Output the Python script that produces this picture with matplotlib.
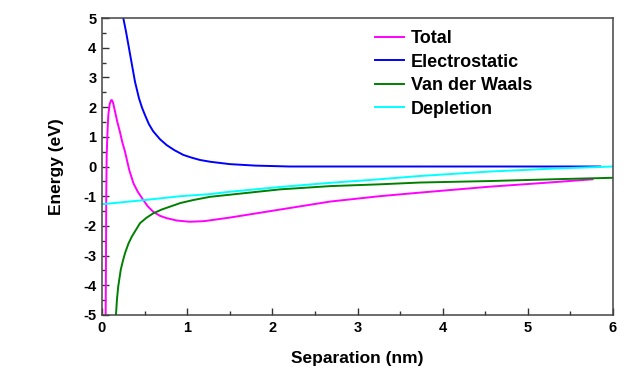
import matplotlib
matplotlib.use("Agg")
from matplotlib import pyplot as plt
from matplotlib.ticker import MultipleLocator

plt.rcParams['font.family'] = ['Liberation Sans', 'DejaVu Sans']
plt.rcParams['font.weight'] = 'bold'
plt.rcParams['axes.unicode_minus'] = False

# separation (nm) and energy (eV) for each interaction term
total_x = [0.043, 0.047, 0.050, 0.055, 0.065, 0.074, 0.09, 0.105, 0.114, 0.13, 0.153,
           0.18, 0.21, 0.24, 0.27, 0.32, 0.37, 0.42, 0.485, 0.54, 0.60, 0.68, 0.76,
           0.88, 1.03, 1.2, 1.5, 2.09, 2.68, 3.26, 3.73, 4.55, 5.2, 5.76]
total_y = [-5.0, -3.0, -1.0, 0.39, 1.2, 1.73, 2.1, 2.22, 2.24, 2.15, 1.85,
           1.5, 1.17, 0.8, 0.5, -0.12, -0.57, -0.85, -1.13, -1.35, -1.52, -1.66, -1.74,
           -1.82, -1.86, -1.84, -1.72, -1.45, -1.18, -1.0, -0.88, -0.68, -0.55, -0.43]

elec_x = [0.25, 0.282, 0.317, 0.352, 0.387, 0.434, 0.47, 0.505, 0.55, 0.60, 0.68,
          0.76, 0.85, 0.955, 1.05, 1.15, 1.27, 1.5, 1.8, 2.2, 3.0, 4.0, 5.0, 5.85]
elec_y = [5.0, 4.54, 3.98, 3.42, 2.86, 2.30, 1.98, 1.73, 1.43, 1.19, 0.92,
          0.72, 0.55, 0.39, 0.30, 0.22, 0.16, 0.08, 0.03, 0.0, 0.0, 0.0, 0.0, 0.0]

vdw_x = [0.164, 0.175, 0.19, 0.22, 0.245, 0.27, 0.31, 0.35, 0.446, 0.52, 0.60, 0.70,
         0.80, 0.92, 1.07, 1.27, 1.5, 2.09, 2.68, 3.26, 3.73, 4.55, 5.3, 6.0]
vdw_y = [-5.0, -4.5, -4.05, -3.48, -3.18, -2.92, -2.6, -2.36, -1.91, -1.73, -1.58, -1.45,
         -1.35, -1.23, -1.13, -1.02, -0.95, -0.77, -0.66, -0.60, -0.54, -0.49, -0.43, -0.38]

depl_x = [0.0, 0.5, 0.92, 1.27, 1.5, 2.09, 2.68, 3.26, 3.73, 4.55, 5.3, 6.0]
depl_y = [-1.27, -1.13, -1.0, -0.93, -0.85, -0.69, -0.55, -0.43, -0.32, -0.17, -0.07, 0.0]

fig = plt.figure(figsize=(6.33, 3.89), dpi=100)
ax = fig.add_axes([102 / 633, 1 - 315 / 389, 511 / 633, 297 / 389])

ax.plot(total_x, total_y, color='#FF00FF', lw=1.4, label='Total')
ax.plot(elec_x, elec_y, color='#0000FF', lw=1.4, label='Electrostatic')
ax.plot(vdw_x, vdw_y, color='#008000', lw=1.4, label='Van der Waals')
ax.plot(depl_x, depl_y, color='#00FFFF', lw=1.4, label='Depletion')

ax.set_xlim(0, 6)
ax.set_ylim(-5, 5)
ax.xaxis.set_major_locator(MultipleLocator(1))
ax.xaxis.set_minor_locator(MultipleLocator(0.5))
ax.yaxis.set_major_locator(MultipleLocator(1))
ax.yaxis.set_minor_locator(MultipleLocator(0.5))
ax.tick_params(which='both', direction='in', top=False, right=False,
               labelsize=10.5, color='#333333', width=1)
ax.tick_params(which='major', length=5, pad=4)
ax.tick_params(which='minor', length=3)
for s in ax.spines.values():
    s.set_color('#444444')
    s.set_linewidth(1.1)

ax.set_xlabel('Separation (nm)', fontsize=12.5, fontweight='bold', labelpad=12)
ax.set_ylabel('Energy (eV)', fontsize=12.5, fontweight='bold', labelpad=14)

ax.legend(loc='upper left', bbox_to_anchor=(0.52, 0.983), frameon=False,
          fontsize=13, handlelength=1.6, handletextpad=0.4, labelspacing=0.36,
          borderaxespad=0)

fig.savefig('out.png', dpi=100, facecolor='white')
